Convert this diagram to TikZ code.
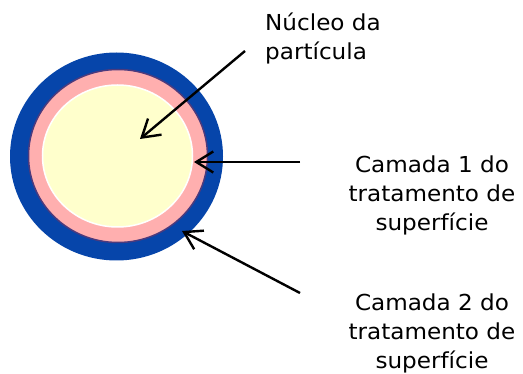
\documentclass[tikz,border=0pt]{standalone}
\usepackage{fontspec}
\setmainfont[FakeStretch=1.05]{DejaVu Sans}
\usetikzlibrary{arrows.meta}
\definecolor{outerblue}{RGB}{6,69,170}
\definecolor{layerpink}{RGB}{255,175,175}
\definecolor{corey}{RGB}{255,255,204}
\definecolor{rimpurple}{RGB}{75,58,125}
\tikzset{
  lbl/.style={font=\fontsize{22}{29}\selectfont, inner sep=0pt, text=black},
  pointer/.style={draw=black, line width=2.4pt, -{Straight Barb[length=17pt,width=21pt,line width=2.4pt]}}
}
\begin{document}
\begin{tikzpicture}[x=1pt,y=-1pt]
\useasboundingbox (0,0) rectangle (523,374);
\fill[white] (0,0) rectangle (523,374);
% particle
\fill[outerblue] (116.5,156.5) ellipse [x radius=106.5, y radius=104];
\filldraw[fill=layerpink, draw=rimpurple, line width=1.5pt] (118,156) ellipse [x radius=89.5, y radius=86.5];
\filldraw[fill=corey, draw=white, line width=1.5pt] (117.5,156) ellipse [x radius=75, y radius=71];
% anchor coordinates
\coordinate (coretip) at (140,139);
\coordinate (l1tip) at (194,162);
\coordinate (l2tip) at (182,231);
\coordinate (corestart) at (245,51);
\coordinate (l1start) at (300,162);
\coordinate (l2start) at (300,293);
% labels
\node[lbl, align=left, anchor=north west] (core) at (265,13) {Núcleo da\\partícula};
\node[lbl, align=center, anchor=north] (layer1) at (432,156) {Camada 1 do\\tratamento de\\superfície};
\node[lbl, align=center, anchor=north] (layer2) at (432,294) {Camada 2 do\\tratamento de\\superfície};
% arrows
\draw[pointer] (corestart) -- (coretip);
\draw[pointer] (l1start) -- (l1tip);
\draw[pointer] (l2start) -- (l2tip);
\end{tikzpicture}
\end{document}
